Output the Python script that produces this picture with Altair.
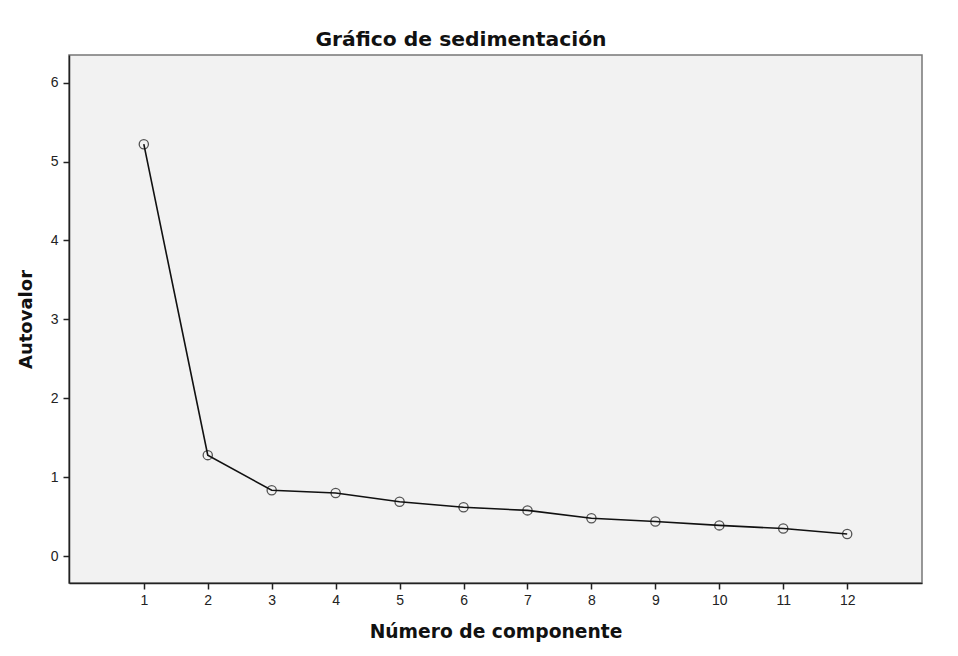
import altair as alt
import pandas as pd

componentes = [1, 2, 3, 4, 5, 6, 7, 8, 9, 10, 11, 12]
autovalores = [5.22, 1.28, 0.835, 0.80, 0.69, 0.62, 0.58, 0.48, 0.44, 0.39, 0.35, 0.28]

df = pd.DataFrame({"Componente": componentes, "Autovalor": autovalores})

TITLE_FONT = "DejaVu Sans"

x = alt.X("Componente:Q",
          scale=alt.Scale(domain=[-0.17, 13.17], nice=False, zero=False),
          axis=alt.Axis(title="Número de componente", values=componentes, format="d",
                        grid=False, tickSize=6, tickColor="#222", domainColor="#222",
                        domainWidth=1.5, tickWidth=1.5,
                        labelFont="Liberation Sans", labelFontSize=14, labelColor="#222",
                        labelPadding=4, titleFont=TITLE_FONT, titleFontSize=18.7,
                        titleFontWeight="bold", titleColor="#111", titlePadding=15))
y = alt.Y("Autovalor:Q",
          scale=alt.Scale(domain=[-0.34, 6.35], nice=False, zero=False),
          axis=alt.Axis(title="Autovalor", values=[0, 1, 2, 3, 4, 5, 6], format="d",
                        grid=False, tickSize=6, tickColor="#222", domainColor="#222",
                        domainWidth=1.5, tickWidth=1.5,
                        labelFont="Liberation Sans", labelFontSize=14, labelColor="#222",
                        labelPadding=5, titleFont=TITLE_FONT, titleFontSize=18,
                        titleFontWeight="bold", titleColor="#111", titlePadding=15))

line = alt.Chart(df).mark_line(color="#111", strokeWidth=1.6).encode(x=x, y=y)
pts = alt.Chart(df).mark_point(shape="circle", filled=False, color="#111", size=85,
                               strokeWidth=1.3).encode(x=x, y=y)

chart = (line + pts).properties(
    width=853, height=528,
    background="white",
    title=alt.TitleParams("Gráfico de sedimentación", font=TITLE_FONT, fontSize=20.3,
                          fontWeight="bold", color="#111", anchor="middle", dx=-34.5,
                          offset=5),
    padding={"left": 61, "top": 47, "right": 20, "bottom": 62},
    autosize=alt.AutoSizeParams(type="none"),
).configure_view(fill="#f2f2f2", stroke="#777", strokeWidth=1.5)

chart.save("out.html", embed_options={"renderer": "svg", "actions": False})
